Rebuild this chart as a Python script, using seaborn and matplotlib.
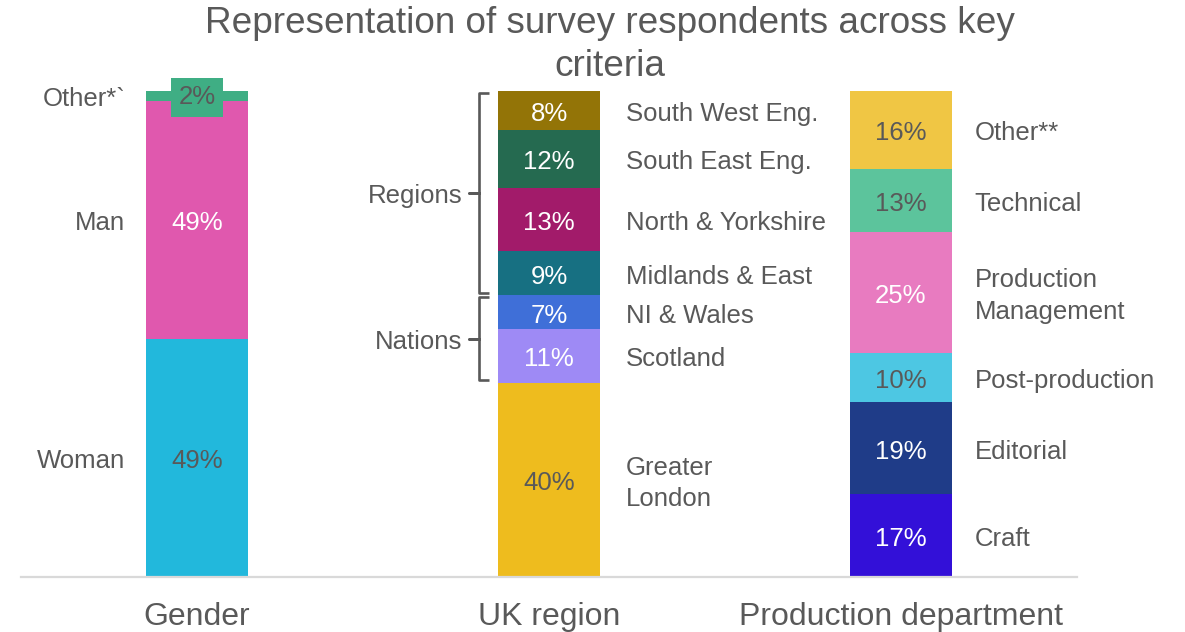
import matplotlib
matplotlib.use("Agg")
import matplotlib.pyplot as plt
import seaborn as sns
import pandas as pd

# ---- data -----------------------------------------------------------------
groups = ["Gender", "UK region", "Production department"]

gender_labels = ["Woman", "Man", "Other*`"]
gender_values = [49, 49, 2]

region_labels = ["Greater\nLondon", "Scotland", "NI & Wales", "Midlands & East",
                 "North & Yorkshire", "South East Eng.", "South West Eng."]
region_values = [40, 11, 7, 9, 13, 12, 8]

dept_labels = ["Craft", "Editorial", "Post-production", "Production\nManagement",
               "Technical", "Other**"]
dept_values = [17, 19, 10, 25, 13, 16]

nation_labels = ["Scotland", "NI & Wales"]
regional_labels = ["Midlands & East", "North & Yorkshire", "South East Eng.", "South West Eng."]

# ---- styling --------------------------------------------------------------
gender_colors = ["#22B8DC", "#E058AE", "#3FAE84"]
gender_text = ["#595959", "white", "#595959"]
region_colors = ["#EEBC1E", "#9E8AF5", "#3F6FD8", "#177082", "#A21B6A", "#256A50", "#937407"]
region_text = ["#595959", "white", "white", "white", "white", "white", "white"]
dept_colors = ["#3310D8", "#1F3C88", "#4DC7E3", "#E87BC0", "#5CC49C", "#F0C644"]
dept_text = ["white", "white", "#595959", "white", "#595959", "#595959"]

GREY = "#595959"
BAR_W = 0.287
DY = 0.7   # nudge so text sits optically centred on its segment

sns.set_style("white")
plt.rcParams["font.family"] = ["Liberation Sans", "DejaVu Sans"]

# ---- table of stacked segments --------------------------------------------
rows = []
for g, labels, values, colors, tcols in [
    (groups[0], gender_labels, gender_values, gender_colors, gender_text),
    (groups[1], region_labels, region_values, region_colors, region_text),
    (groups[2], dept_labels, dept_values, dept_colors, dept_text),
]:
    bottom = 0
    for lab, v, c, tc in zip(labels, values, colors, tcols):
        rows.append(dict(group=g, label=lab, value=v, bottom=bottom,
                         top=bottom + v, color=c, textcolor=tc))
        bottom += v
seg = pd.DataFrame(rows)
seg["mid"] = (seg["bottom"] + seg["top"]) / 2
seg["xpos"] = seg["group"].map({g: i for i, g in enumerate(groups)})

fig = plt.figure(figsize=(11.85, 6.32), dpi=100)
ax = fig.add_axes([21 / 1185, 55 / 632, 1056 / 1185, 486 / 632])

# stacked bars: draw cumulative totals tallest-first so each segment shows
for _, r in seg.sort_values("top", ascending=False).iterrows():
    sns.barplot(x=[r["group"]], y=[r["top"]], order=groups, color=r["color"],
                saturation=1, width=BAR_W, errorbar=None, linewidth=0, ax=ax)

ax.set_xlim(-0.5, 2.5)
ax.set_ylim(0, 100)
ax.set_xlabel("")
ax.set_ylabel("")
ax.set_yticks([])
for side in ["left", "right", "top"]:
    ax.spines[side].set_visible(False)
ax.spines["bottom"].set_color("#D9D9D9")
ax.spines["bottom"].set_linewidth(1.6)
ax.tick_params(axis="x", length=0, pad=18, labelsize=23, labelcolor=GREY)

# value labels inside segments, names beside them
for _, r in seg.iterrows():
    x = r["xpos"]
    y = r["mid"] - DY
    bbox = None
    if r["group"] == "Gender" and r["value"] < 5:
        bbox = dict(facecolor=r["color"], edgecolor="none", boxstyle="square,pad=0.3")
        y = r["mid"] - 0.3
    ax.text(x, y, f"{r['value']}%", ha="center", va="center",
            fontsize=18.5, color=r["textcolor"], bbox=bbox)
    if r["group"] == "Gender":
        ax.text(x - BAR_W / 2 - 0.06, r["mid"] - DY, r["label"], ha="right",
                va="center", fontsize=18.5, color=GREY)
    else:
        off = 0.075 if r["group"] == "UK region" else 0.065
        ax.text(x + BAR_W / 2 + off, y, r["label"], ha="left",
                va="center", fontsize=18.5, color=GREY, linespacing=1.38)

# brackets grouping the UK segments into regions and nations
uk = seg[seg["group"] == "UK region"]
bx = 1 - BAR_W / 2 - 0.054
hook = 0.026
tick = 0.031
gap = 0.45
for name, members in [("Regions", regional_labels), ("Nations", nation_labels)]:
    part = uk[uk["label"].isin(members)]
    lo = part["bottom"].min() + gap
    hi = part["top"].max() - gap
    mid = (lo + hi) / 2
    ax.plot([bx + hook, bx, bx, bx - tick, bx, bx, bx + hook],
            [hi, hi, mid, mid, mid, lo, lo], color=GREY, lw=1.9,
            solid_joinstyle="round", solid_capstyle="butt", clip_on=False)
    ax.text(bx - tick - 0.017, mid - DY, name, ha="right", va="center",
            fontsize=18.5, color=GREY)

fig.text(610 / 1185, 1 - 45 / 632,
         "Representation of survey respondents across key\ncriteria",
         ha="center", va="center", fontsize=26.6, color=GREY, linespacing=1.27)

fig.savefig("out.png", dpi=100)
